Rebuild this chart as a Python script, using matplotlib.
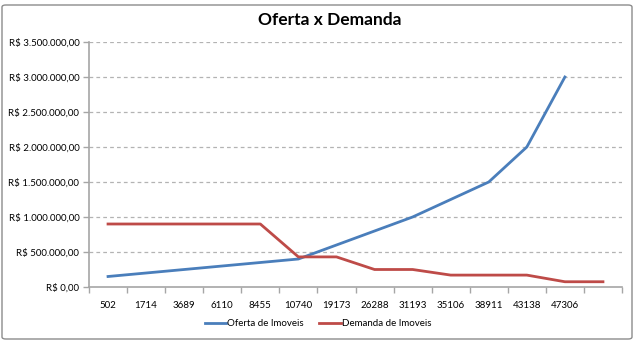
import matplotlib
matplotlib.use("Agg")
import matplotlib.pyplot as plt
from matplotlib.patches import FancyBboxPatch
from matplotlib.ticker import FuncFormatter, MultipleLocator
import numpy as np

plt.rcParams['font.family'] = ['Lato', 'DejaVu Sans']

categories = ["502", "1714", "3689", "6110", "8455", "10740", "19173",
              "26288", "31193", "35106", "38911", "43138", "47306", ""]
oferta = [150000, 200000, 250000, 300000, 350000, 400000, 600000,
          800000, 1000000, 1250000, 1500000, 2000000, 3000000, np.nan]
demanda = [900000, 900000, 900000, 900000, 900000, 430000, 430000,
           250000, 250000, 170000, 170000, 170000, 75000, 75000]

BLUE = "#4a7ebb"
RED = "#be4b48"
GRID = "#b3b3b3"
AXIS = "#a6a6a6"


def brl(v, _pos=None):
    inteiro = f"{int(round(v)):,}".replace(",", ".")
    return f"R$ {inteiro},00"


fig = plt.figure(figsize=(6.36, 3.43), dpi=100)
fig.patch.set_facecolor("white")

# outer chart frame
frame = FancyBboxPatch((2 / 636, 4 / 343), 630 / 636, 334 / 343,
                       boxstyle="round,pad=0,rounding_size=0.006",
                       transform=fig.transFigure, facecolor="none",
                       edgecolor="#8c8c8c", linewidth=1.0)
fig.add_artist(frame)

ax = fig.add_axes([89 / 636, 1 - 287 / 343, 533 / 636, 245 / 343])
x = np.arange(len(categories))

ax.plot(x, oferta, color=BLUE, linewidth=2.0, label="Oferta de Imoveis",
        solid_joinstyle="round")
ax.plot(x, demanda, color=RED, linewidth=2.0, label="Demanda de Imoveis",
        solid_joinstyle="round")

ax.set_xlim(-0.5, len(categories) - 0.5)
ax.set_ylim(0, 3500000)
ax.yaxis.set_major_locator(MultipleLocator(500000))
ax.yaxis.set_major_formatter(FuncFormatter(brl))

for yv in np.arange(500000, 3500001, 500000):
    ax.axhline(yv, color=GRID, linewidth=0.9, linestyle=(0, (3, 2.5)),
               zorder=0)

ax.set_xticks(x)
ax.set_xticklabels(categories)
ax.set_xticks(np.arange(-0.5, len(categories), 1), minor=True)
ax.tick_params(axis="x", which="major", length=0, labelsize=7,
               pad=10, labelcolor="#000000")
ax.tick_params(axis="x", which="minor", length=4, color=AXIS, width=1)
ax.tick_params(axis="y", which="major", length=4, color=AXIS, width=1,
               labelsize=7, labelcolor="#000000", pad=3)

for side in ("top", "right"):
    ax.spines[side].set_visible(False)
for side in ("left", "bottom"):
    ax.spines[side].set_color(AXIS)
    ax.spines[side].set_linewidth(1.2)

fig.text(330 / 636, 1 - 20 / 343, "Oferta x Demanda", ha="center",
         va="center", fontsize=12.5, fontweight="bold")

handles, labels = ax.get_legend_handles_labels()
fig.legend(handles, labels, loc="center", bbox_to_anchor=(318 / 636, 1 - 324 / 343),
           ncol=2, frameon=False, fontsize=7, handlelength=2.2,
           handletextpad=0.1, columnspacing=1.6)

fig.savefig("out.png", dpi=100, facecolor="white")
